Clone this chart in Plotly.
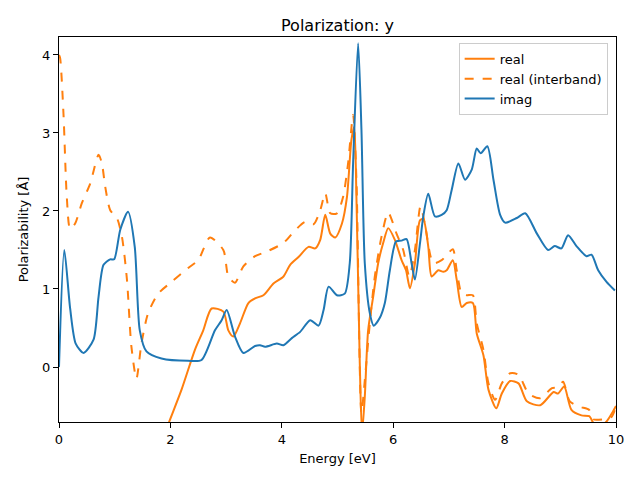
import plotly.graph_objects as go

# imag
imag_x = [0.0, 0.095, 0.2, 0.3, 0.44, 0.62, 0.71, 0.80, 0.92, 0.99, 1.10, 1.24, 1.36, 1.45, 1.57, 1.84, 2.32, 2.56, 2.80, 2.92, 3.01, 3.16, 3.31, 3.52, 3.61, 3.70, 3.91, 4.03, 4.18, 4.33, 4.51, 4.66, 4.75, 4.84, 4.99, 5.13, 5.22, 5.28, 5.37, 5.43, 5.49, 5.58, 5.65, 5.76, 5.85, 5.94, 6.05, 6.15, 6.24, 6.33, 6.39, 6.48, 6.54, 6.63, 6.75, 6.87, 6.96, 7.05, 7.17, 7.29, 7.41, 7.50, 7.57, 7.69, 7.80, 7.92, 8.01, 8.22, 8.37, 8.58, 8.78, 8.90, 9.02, 9.14, 9.29, 9.47, 9.56, 9.68, 9.83, 9.98]
imag_y = [0.0, 1.50, 0.75, 0.30, 0.18, 0.35, 0.90, 1.31, 1.38, 1.38, 1.76, 1.99, 1.54, 0.47, 0.20, 0.11, 0.08, 0.09, 0.47, 0.60, 0.73, 0.39, 0.18, 0.27, 0.28, 0.26, 0.30, 0.28, 0.37, 0.45, 0.60, 0.53, 0.73, 1.03, 0.92, 0.94, 1.33, 2.61, 4.15, 3.04, 1.33, 0.69, 0.53, 0.63, 0.82, 1.24, 1.61, 1.62, 1.64, 1.33, 1.12, 1.58, 1.93, 2.22, 1.93, 1.95, 2.01, 2.27, 2.61, 2.40, 2.53, 2.80, 2.74, 2.83, 2.40, 1.95, 1.85, 1.91, 1.97, 1.71, 1.50, 1.55, 1.52, 1.69, 1.55, 1.42, 1.44, 1.24, 1.09, 0.98]

# real (interband)
inter_x = [0.0, 0.02, 0.08, 0.14, 0.20, 0.29, 0.41, 0.56, 0.71, 0.77, 0.83, 0.92, 1.04, 1.13, 1.22, 1.30, 1.39, 1.48, 1.60, 1.78, 2.02, 2.32, 2.50, 2.71, 2.95, 3.04, 3.16, 3.31, 3.52, 3.73, 4.03, 4.21, 4.42, 4.57, 4.69, 4.78, 4.87, 4.99, 5.10, 5.19, 5.28, 5.34, 5.43, 5.49, 5.58, 5.67, 5.79, 5.91, 6.06, 6.18, 6.29, 6.39, 6.49, 6.57, 6.72, 6.87, 6.93, 7.07, 7.14, 7.23, 7.32, 7.43, 7.50, 7.62, 7.71, 7.83, 7.95, 8.10, 8.25, 8.43, 8.64, 8.85, 8.96, 9.05, 9.17, 9.35, 9.52, 9.59, 9.77, 9.92, 10.0]
inter_y = [4.00, 3.96, 3.25, 2.18, 1.77, 1.84, 2.10, 2.35, 2.72, 2.61, 2.31, 2.01, 1.91, 1.67, 1.12, 0.26, -0.15, 0.30, 0.69, 0.94, 1.09, 1.27, 1.37, 1.66, 1.50, 1.16, 1.08, 1.29, 1.42, 1.48, 1.59, 1.73, 1.86, 1.83, 2.01, 2.23, 1.97, 1.97, 2.18, 2.61, 3.23, 2.40, -0.59, -0.17, 0.56, 1.16, 1.67, 1.98, 1.71, 1.50, 1.16, 1.50, 2.06, 1.83, 1.33, 1.37, 1.41, 1.51, 1.24, 0.94, 0.92, 0.92, 0.56, 0.22, -0.21, -0.42, -0.21, -0.08, -0.10, -0.34, -0.40, -0.27, -0.26, -0.19, -0.44, -0.51, -0.55, -0.67, -0.67, -0.64, -0.50]

# real
real_x = [1.90, 1.99, 2.20, 2.44, 2.59, 2.74, 2.95, 3.04, 3.13, 3.25, 3.40, 3.52, 3.67, 3.85, 4.03, 4.15, 4.30, 4.48, 4.60, 4.69, 4.78, 4.87, 4.96, 5.08, 5.17, 5.25, 5.30, 5.34, 5.40, 5.44, 5.49, 5.55, 5.64, 5.73, 5.82, 5.91, 6.03, 6.15, 6.23, 6.30, 6.39, 6.48, 6.54, 6.63, 6.69, 6.81, 6.90, 6.96, 7.07, 7.14, 7.23, 7.32, 7.43, 7.50, 7.62, 7.71, 7.85, 7.95, 8.10, 8.25, 8.40, 8.64, 8.88, 8.96, 9.07, 9.20, 9.38, 9.52, 9.62, 9.80, 10.0]
real_y = [-0.85, -0.68, -0.29, 0.22, 0.47, 0.75, 0.71, 0.47, 0.39, 0.56, 0.82, 0.88, 0.92, 1.07, 1.16, 1.31, 1.41, 1.54, 1.52, 1.63, 1.95, 1.71, 1.66, 1.84, 2.18, 2.91, 3.08, 2.18, 0.05, -0.85, -0.38, 0.47, 0.90, 1.33, 1.59, 1.78, 1.63, 1.37, 1.24, 1.01, 1.33, 1.88, 1.90, 1.54, 1.16, 1.24, 1.22, 1.24, 1.37, 1.12, 0.77, 0.82, 0.82, 0.43, 0.15, -0.29, -0.53, -0.34, -0.18, -0.21, -0.44, -0.49, -0.32, -0.34, -0.25, -0.55, -0.62, -0.63, -0.74, -0.72, -0.50]

ORANGE = "#ff7f0e"
BLUE = "#1f77b4"
FONT = "DejaVu Sans, Liberation Sans, sans-serif"

fig = go.Figure()
fig.add_trace(go.Scatter(x=real_x, y=real_y, mode="lines", name="real",
                         line=dict(color=ORANGE, width=2, shape="spline", smoothing=0.7)))
fig.add_trace(go.Scatter(x=inter_x, y=inter_y, mode="lines", name="real (interband)",
                         line=dict(color=ORANGE, width=2, dash="dash", shape="spline", smoothing=0.7)))
fig.add_trace(go.Scatter(x=imag_x, y=imag_y, mode="lines", name="imag",
                         line=dict(color=BLUE, width=2, shape="spline", smoothing=0.7)))

axis_common = dict(showline=True, linecolor="black", linewidth=1, mirror=True,
                   ticks="outside", ticklen=5, tickwidth=1, tickcolor="black",
                   showgrid=False, zeroline=False,
                   tickfont=dict(family=FONT, size=13, color="black"))

# page body has an 8px margin, so the figure is 632x472 with offsets adjusted
W, H = 632, 472
fig.update_layout(
    width=W, height=H,
    paper_bgcolor="white", plot_bgcolor="white",
    margin=dict(l=51, r=24, t=29, b=58),
    font=dict(family=FONT, size=13, color="black"),
    title=dict(text="Polarization: y", xref="paper", x=0.5, xanchor="center",
               yref="container", y=1 - 17/H, yanchor="middle",
               font=dict(family=FONT, size=16, color="black")),
    xaxis=dict(range=[0, 10], tickvals=[0, 2, 4, 6, 8, 10],
               title=dict(text="Energy [eV]", font=dict(family=FONT, size=13), standoff=8),
               **axis_common),
    yaxis=dict(range=[-0.705, 4.23], tickvals=[0, 1, 2, 3, 4],
               title=dict(text="Polarizability [Å]", font=dict(family=FONT, size=13), standoff=10),
               **axis_common),
    legend=dict(x=0.985, y=0.985, xanchor="right", yanchor="top",
                bgcolor="rgba(255,255,255,0.8)", bordercolor="#cccccc", borderwidth=1,
                font=dict(family=FONT, size=13, color="black"), tracegroupgap=0),
    showlegend=True,
)

fig.write_html("out.html")
